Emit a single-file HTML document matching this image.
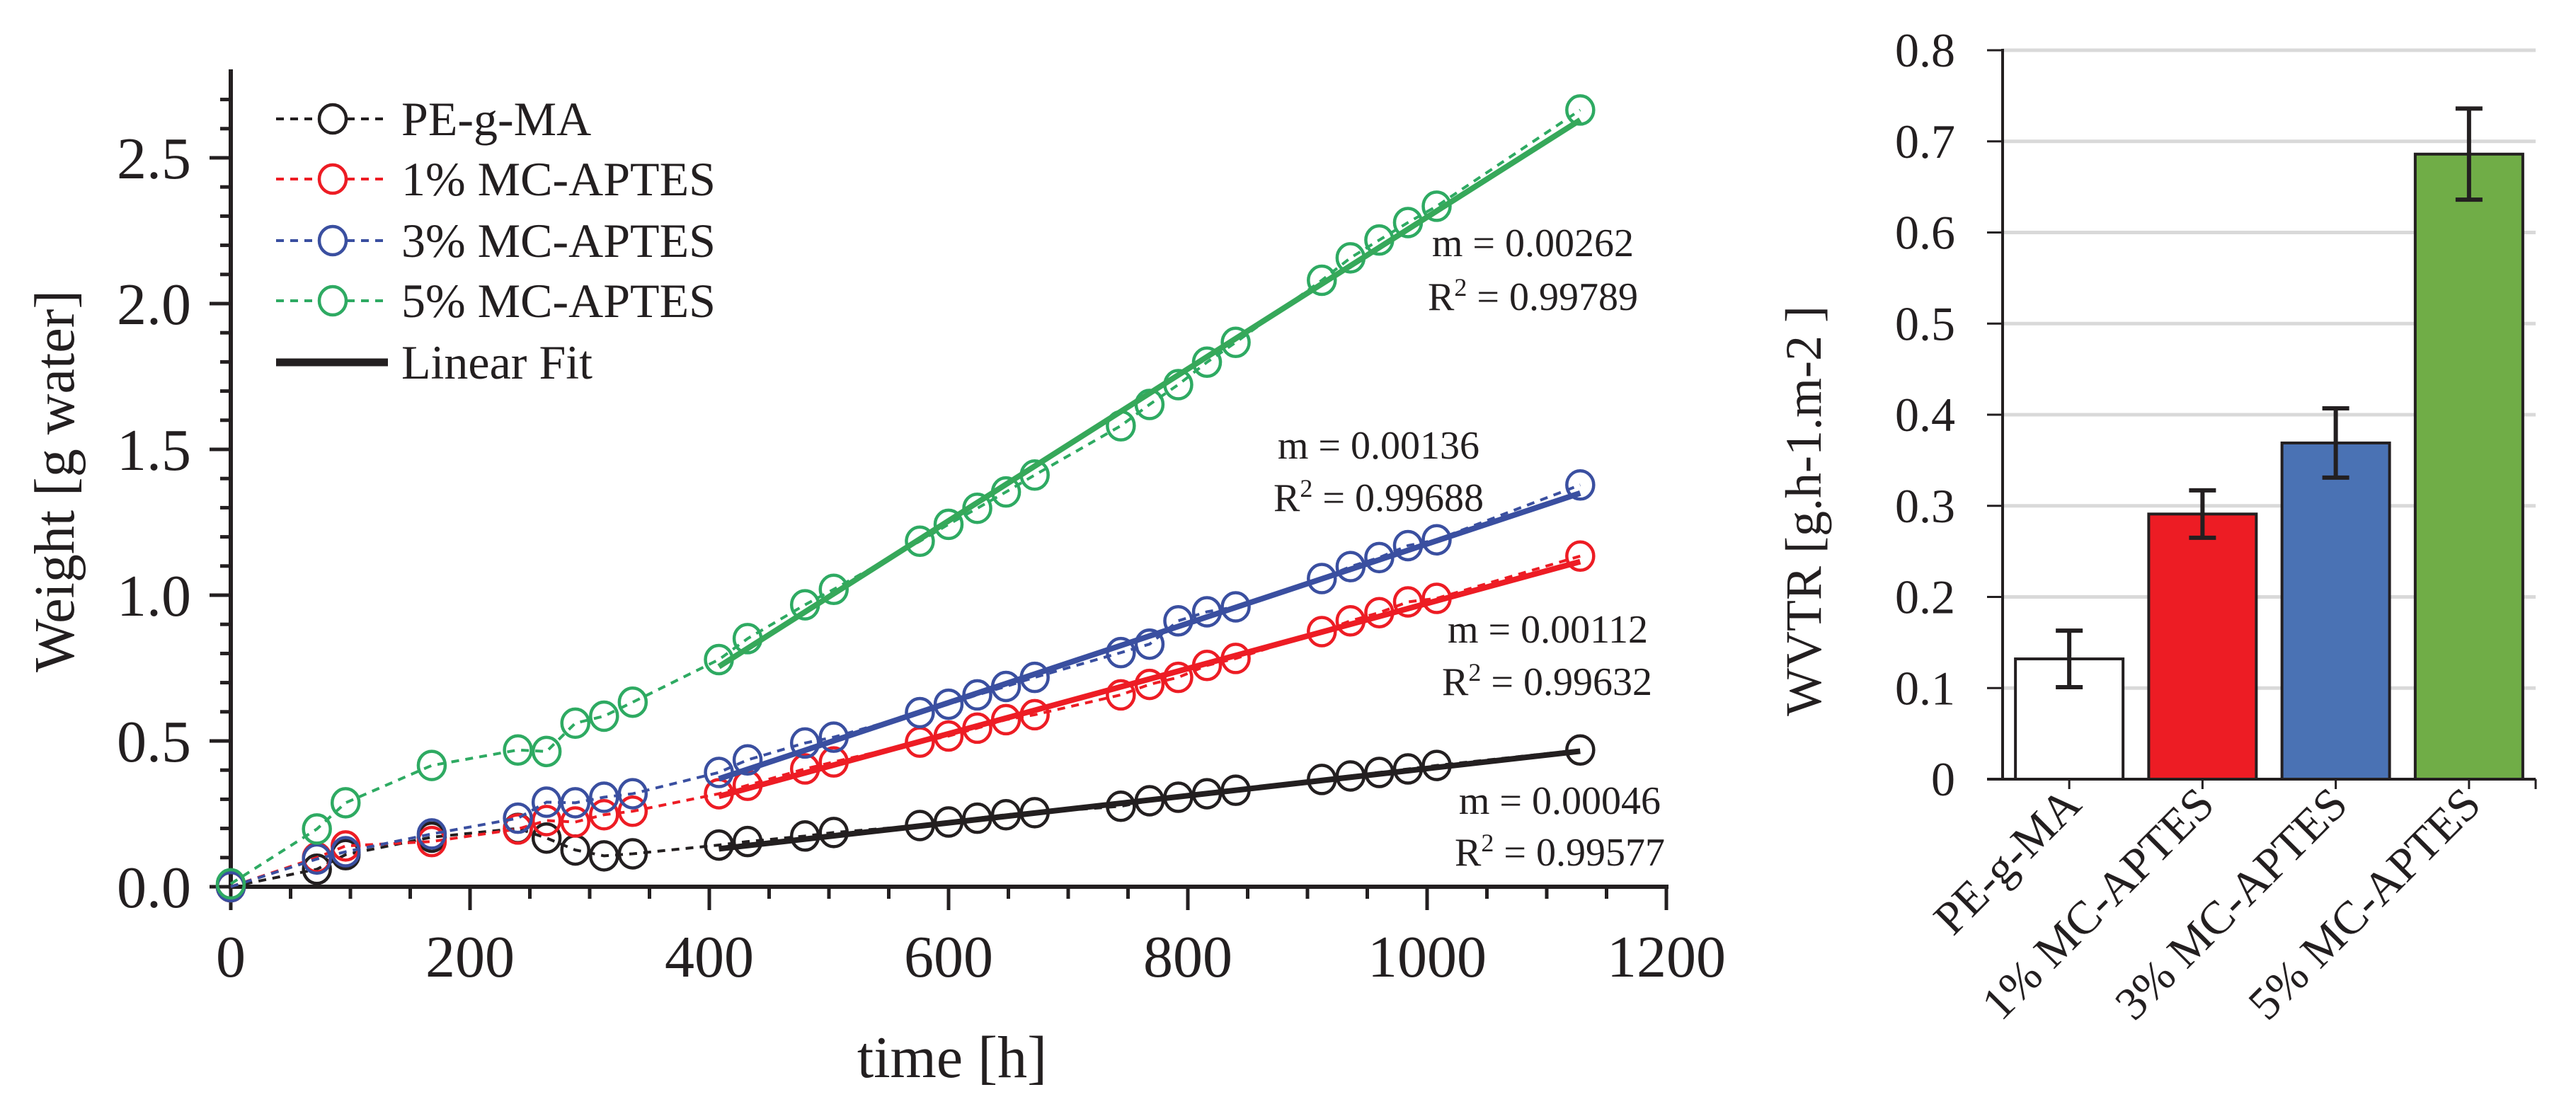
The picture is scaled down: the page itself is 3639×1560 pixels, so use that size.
<!DOCTYPE html>
<html><head><meta charset="utf-8"><style>
html,body{margin:0;padding:0;background:#fff;}
svg text{font-family:"Liberation Serif",serif;fill:#231f20;}
</style></head><body>
<svg id="chart" width="3639" height="1555" viewBox="0 0 3639 1555" xmlns="http://www.w3.org/2000/svg">
<g id="left"></g>
<g id="right"></g>
</svg>
<script>
const times = [0,72,96,168,240,264,288,312,336,408,432,480,504,576,600,624,648,672,744,768,792,816,840,912,936,960,984,1008,1128];
const sPE = [0,0.06,0.11,0.17,0.2,0.167,0.126,0.106,0.113,0.143,0.155,0.174,0.186,0.21,0.222,0.235,0.247,0.254,0.276,0.295,0.307,0.319,0.331,0.368,0.38,0.392,0.404,0.416,0.469];
const s1 = [0,0.10,0.14,0.155,0.198,0.227,0.222,0.247,0.259,0.319,0.348,0.404,0.428,0.496,0.517,0.544,0.573,0.59,0.658,0.694,0.718,0.759,0.783,0.875,0.912,0.94,0.977,0.989,1.134];
const s3 = [0,0.095,0.12,0.181,0.235,0.29,0.288,0.307,0.319,0.392,0.435,0.493,0.513,0.597,0.626,0.658,0.687,0.718,0.803,0.832,0.912,0.943,0.96,1.057,1.098,1.129,1.17,1.19,1.378];
const s5 = [0.01,0.198,0.288,0.416,0.469,0.464,0.561,0.585,0.633,0.779,0.851,0.967,1.02,1.185,1.243,1.298,1.354,1.412,1.581,1.654,1.722,1.799,1.867,2.08,2.157,2.218,2.278,2.334,2.664];
const fitX = [408,1128];
const fitPE = [0.13,0.465];
const fit1 = [0.31,1.115];
const fit3 = [0.37,1.35];
const fit5 = [0.755,2.63];
const seriesNames = ["PE-g-MA","1% MC-APTES","3% MC-APTES","5% MC-APTES"];
const yTicks = ["0.0","0.5","1.0","1.5","2.0","2.5"];
const xTicks = ["0","200","400","600","800","1000","1200"];
const barCats = ["PE-g-MA","1% MC-APTES","3% MC-APTES","5% MC-APTES"];
const barVals = [0.132,0.291,0.369,0.686];
const barErr = [0.031,0.026,0.038,0.05];
const barTicks = ["0","0.1","0.2","0.3","0.4","0.5","0.6","0.7","0.8"];

const NS="http://www.w3.org/2000/svg";
function mk(parent,tag,attrs,text){const e=document.createElementNS(NS,tag);for(const k in attrs)e.setAttribute(k,attrs[k]);if(text!==undefined)e.textContent=text;parent.appendChild(e);return e;}
const L=document.getElementById('left'), R=document.getElementById('right');
const X0=326,X1=2354,Y0=1253,UNIT=412;
const xs=t=>X0+(t/1200)*(X1-X0);
const ys=v=>Y0-v*UNIT;
const colors=["#231f20","#ed1c24","#3a4fa0","#2eaa62"];
const fitColors=["#231f20","#ed1c24","#3a4fa0","#36a85a"];
const allS=[sPE,s1,s3,s5], allFit=[fitPE,fit1,fit3,fit5];
const sNames=['pe-g-ma','1pct','3pct','5pct'];
let e;
e=mk(L,'line',{x1:X0,y1:Y0,x2:X1+3,y2:Y0,stroke:'#231f20','stroke-width':6});


e=mk(L,'line',{x1:X0,y1:98,x2:X0,y2:Y0+3,stroke:'#231f20','stroke-width':6});


for(let v=0;v<=2.71;v+=0.1){const major=Math.abs(v*2-Math.round(v*2))<1e-6;mk(L,'line',{x1:X0-(major?30:15),y1:ys(v),x2:X0,y2:ys(v),stroke:'#231f20','stroke-width':5});}
for(let t=0;t<=1200;t+=50){const major=t%200===0;mk(L,'line',{x1:xs(t),y1:Y0,x2:xs(t),y2:Y0+(major?33:17),stroke:'#231f20','stroke-width':5});}
yTicks.forEach((s,i)=>{e=mk(L,'text',{x:270,y:ys(parseFloat(s))+29,'text-anchor':'end','font-size':84},s);

});
xTicks.forEach((s)=>{e=mk(L,'text',{x:xs(parseFloat(s)),y:1380,'text-anchor':'middle','font-size':84},s);

});
e=mk(L,'text',{x:1345,y:1522,'text-anchor':'middle','font-size':84},'time [h]');


e=mk(L,'text',{x:0,y:0,'text-anchor':'middle','font-size':80,transform:'translate(104,680) rotate(-90)'},'Weight [g water]');


allS.forEach((s,si)=>{
  const g=mk(L,'g',{});
  
  
  const pts=s.map((v,i)=>xs(times[i])+','+ys(v)).join(' ');
  mk(g,'polyline',{points:pts,fill:'none',stroke:colors[si],'stroke-width':4,'stroke-dasharray':'11 9'});
  s.forEach((v,i)=>{const c=mk(g,'ellipse',{cx:xs(times[i]),cy:ys(v),rx:19,ry:20,fill:'none',stroke:colors[si],'stroke-width':4.5});
  
  });
});
allFit.forEach((f,si)=>{e=mk(L,'line',{x1:xs(fitX[0]),y1:ys(f[0]),x2:xs(fitX[1]),y2:ys(f[1]),stroke:fitColors[si],'stroke-width':8});

});
const ann=[["m = 0.00262","0.99789",2308,362,438],["m = 0.00136","0.99688",2090,648,722],["m = 0.00112","0.99632",2328,908,982],["m = 0.00046","0.99577",2346,1150,1223]];
ann.forEach(a=>{e=mk(L,'text',{x:a[2],y:a[3],'text-anchor':'end','font-size':56},a[0]);


const t=mk(L,'text',{x:a[2]+6,y:a[4],'text-anchor':'end','font-size':56});


t.innerHTML='R<tspan dy="-20" font-size="36">2</tspan><tspan dy="20"> = '+a[1]+'</tspan>';});
const lg=mk(L,'g',{});


const ly=[168,253,340,425];
seriesNames.forEach((n,i)=>{
  const g=mk(lg,'g',{});
  
  
  mk(g,'line',{x1:390,y1:ly[i],x2:548,y2:ly[i],stroke:colors[i],'stroke-width':4,'stroke-dasharray':'11 9'});
  mk(g,'ellipse',{cx:470,cy:ly[i],rx:19,ry:20,fill:'#fff',stroke:colors[i],'stroke-width':4.5});
  mk(g,'text',{x:567,y:ly[i]+23,'font-size':68},n);
});
const lf=mk(lg,'g',{});


mk(lf,'line',{x1:390,y1:512,x2:548,y2:512,stroke:'#231f20','stroke-width':11});
mk(lf,'text',{x:567,y:535,'font-size':68},'Linear Fit');

const BX0=2829,BX1=3582,BY0=1101,BU=1030/0.8;
const by=v=>BY0-v*BU;
barTicks.forEach(s=>{const v=parseFloat(s);
  if(v>0){const gl=mk(R,'line',{x1:BX0,y1:by(v),x2:BX1,y2:by(v),stroke:'#d9d9d9','stroke-width':5});
  
  }
  mk(R,'line',{x1:BX0-22,y1:by(v),x2:BX0,y2:by(v),stroke:'#231f20','stroke-width':3});
  const t=mk(R,'text',{x:2762,y:by(v)+23,'text-anchor':'end','font-size':68},s);
  
  
});
const barColors=['#ffffff','#ed1c24','#4a72b4','#70ad47'];
const slot=(BX1-BX0)/barCats.length;
barCats.forEach((c,i)=>{
  const cx=BX0+slot*(i+0.5), w=152;
  const b=mk(R,'rect',{x:cx-w/2,y:by(barVals[i]),width:w,height:BY0-by(barVals[i]),fill:barColors[i],stroke:'#231f20','stroke-width':4});
  
  
  const eg=mk(R,'g',{stroke:'#231f20','stroke-width':6});
  
  
  const hi=by(barVals[i]+barErr[i]), lo=by(barVals[i]-barErr[i]);
  mk(eg,'line',{x1:cx,y1:hi,x2:cx,y2:lo});
  mk(eg,'line',{x1:cx-19,y1:hi,x2:cx+19,y2:hi});
  mk(eg,'line',{x1:cx-19,y1:lo,x2:cx+19,y2:lo});
  mk(R,'line',{x1:cx,y1:BY0,x2:cx,y2:BY0+14,stroke:'#231f20','stroke-width':3});
  const t=mk(R,'text',{x:0,y:0,'text-anchor':'end','font-size':66,transform:'translate('+(cx+20)+',1140) rotate(-45)'},c);
  
  
});
mk(R,'line',{x1:BX1,y1:BY0,x2:BX1,y2:BY0+14,stroke:'#231f20','stroke-width':3});
e=mk(R,'line',{x1:BX0-22,y1:BY0,x2:BX1,y2:BY0,stroke:'#231f20','stroke-width':4});


e=mk(R,'line',{x1:BX0,y1:by(0.8)-2,x2:BX0,y2:BY0,stroke:'#231f20','stroke-width':4});


e=mk(R,'text',{x:0,y:0,'text-anchor':'middle','font-size':72,transform:'translate(2572,722) rotate(-90)'},'WVTR [g.h-1.m-2 ]');


</script>
</body></html>
